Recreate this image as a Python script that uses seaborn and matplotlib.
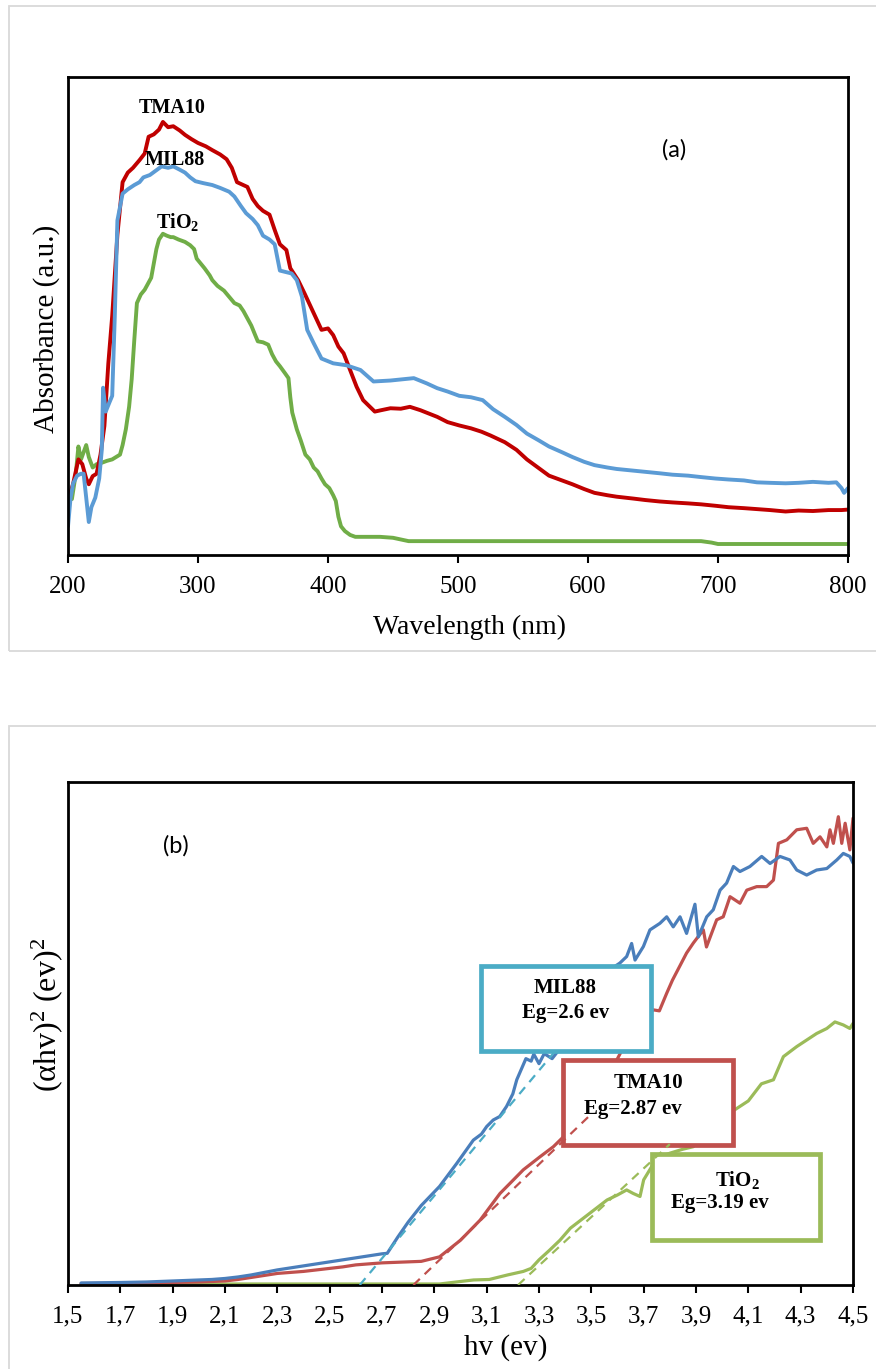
import matplotlib
matplotlib.use("Agg")
import matplotlib.pyplot as plt
import seaborn as sns
import pandas as pd
from matplotlib.patches import Rectangle

# ---------------- Panel (a): UV-Vis absorbance ----------------
wl_tma = [200, 204, 208, 211, 214, 216, 219, 222, 225, 228, 231, 234, 238, 242, 246, 250, 255, 259, 262,
          266, 270, 273, 277, 281, 286, 290, 295, 300, 306, 311, 317, 322, 326, 330, 334, 338, 342, 346,
          350, 355, 359, 363, 368, 371, 377, 382, 389, 395, 400, 404, 408, 412, 417, 422, 427, 436, 441,
          448, 456, 463, 471, 484, 492, 501, 510, 518, 525, 536, 545, 553, 562, 570, 580,
          588, 597, 605, 615, 622, 635, 644, 655, 665, 677, 687, 698, 708, 720, 730, 740, 752, 762, 773,
          785, 795, 800]
abs_tma = [0.113, 0.15, 0.20, 0.19, 0.16, 0.148, 0.165, 0.17, 0.21, 0.27, 0.40, 0.50, 0.67, 0.78, 0.80,
           0.81, 0.826, 0.84, 0.875, 0.88, 0.89, 0.906, 0.895, 0.897, 0.888, 0.879, 0.870, 0.862, 0.855,
           0.847, 0.838, 0.828, 0.81, 0.78, 0.775, 0.77, 0.745, 0.73, 0.72, 0.712, 0.68, 0.65, 0.638, 0.60,
           0.575, 0.547, 0.506, 0.471, 0.474, 0.46, 0.436, 0.422, 0.387, 0.352, 0.324, 0.30, 0.303,
           0.307, 0.306, 0.31, 0.303, 0.289, 0.278, 0.271, 0.265, 0.258, 0.25, 0.236, 0.22, 0.20,
           0.182, 0.166, 0.156, 0.148, 0.138, 0.130, 0.125, 0.122, 0.118, 0.115, 0.112, 0.110, 0.108, 0.106,
           0.103, 0.100, 0.098, 0.096, 0.094, 0.091, 0.093, 0.092, 0.094, 0.094, 0.095]

wl_mil = [200, 202, 204, 207, 210, 212, 214, 216, 218, 221, 224, 226, 227, 229, 232, 234, 236, 238, 242,
          246, 251, 255, 258, 263, 268, 272, 277, 281, 286, 290, 294, 298, 304, 311, 317, 324, 328, 333,
          337, 342, 346, 350, 355, 359, 363, 372, 376, 380, 384, 389, 395, 404, 414, 425, 435, 448, 466,
          476, 484, 492, 501, 510, 519, 527, 536, 545, 553, 562, 570,
          580, 588, 597, 605, 615, 622, 633, 644, 655, 665, 677, 687, 698, 708, 720, 730, 740, 752, 762,
          773, 785, 791, 795, 797, 800]
abs_mil = [0.06, 0.12, 0.15, 0.166, 0.17, 0.17, 0.12, 0.069, 0.10, 0.12, 0.16, 0.22, 0.35, 0.30, 0.32,
           0.333, 0.50, 0.70, 0.756, 0.765, 0.774, 0.78, 0.79, 0.795, 0.805, 0.813, 0.81, 0.813, 0.806, 0.80,
           0.79, 0.782, 0.778, 0.774, 0.768, 0.76, 0.75, 0.73, 0.715, 0.703, 0.69, 0.668, 0.66, 0.65, 0.595,
           0.589, 0.575, 0.54, 0.471, 0.443, 0.411, 0.401, 0.397, 0.387, 0.363, 0.365, 0.37,
           0.359, 0.349, 0.342, 0.333, 0.33, 0.324, 0.305, 0.289, 0.272, 0.254,
           0.24, 0.227, 0.215, 0.205, 0.195, 0.188, 0.183, 0.18, 0.177, 0.174, 0.171, 0.168, 0.166, 0.163,
           0.16, 0.158, 0.156, 0.152, 0.151, 0.15, 0.151, 0.153, 0.151, 0.152, 0.14, 0.13, 0.14]

wl_tio2 = [200, 203, 206, 208, 210, 212, 214, 216, 219, 222, 225, 230, 234, 237, 240, 242, 244.5, 247, 249,
           251, 253, 256, 259, 262, 264, 266, 268, 270, 273, 276, 279, 281, 285, 290, 294, 297, 299, 302,
           305, 309, 311, 315, 320, 324, 328, 332, 335, 337, 341, 344, 346, 350, 354, 357, 360, 363, 367,
           369.6, 371, 372.5, 376, 379, 382.6, 386, 389, 392, 395, 397.7, 401, 404, 406, 408, 410, 413,
           417, 421, 428, 440, 450, 462, 500, 600, 687, 695, 700, 800]
abs_tio2 = [0.117, 0.117, 0.17, 0.227, 0.20, 0.215, 0.23, 0.205, 0.183, 0.19, 0.192, 0.197, 0.20, 0.205,
            0.21, 0.23, 0.263, 0.31, 0.368, 0.45, 0.527, 0.545, 0.555, 0.57, 0.58, 0.61, 0.64, 0.66, 0.672,
            0.668, 0.665, 0.665, 0.66, 0.655, 0.648, 0.64, 0.62, 0.61, 0.60, 0.585, 0.575, 0.563, 0.553,
            0.54, 0.527, 0.522, 0.51, 0.50, 0.48, 0.46, 0.447, 0.445, 0.44, 0.42, 0.405, 0.395, 0.38, 0.37,
            0.33, 0.298, 0.263, 0.24, 0.21, 0.2, 0.183, 0.175, 0.16, 0.148, 0.14, 0.125, 0.113, 0.08, 0.06,
            0.05, 0.042, 0.038, 0.038, 0.038, 0.036, 0.029, 0.029, 0.029, 0.029, 0.026, 0.023, 0.023]

wl_ticks = [200, 300, 400, 500, 600, 700, 800]

# ---------------- Panel (b): Tauc plot ----------------
hv_mil = [1.55, 1.7, 1.8, 1.9, 2.0, 2.05, 2.1, 2.15, 2.2, 2.25, 2.3, 2.35, 2.4, 2.45, 2.5, 2.55, 2.6, 2.65,
          2.7, 2.72, 2.76, 2.8, 2.85, 2.92, 2.986, 3.049, 3.08, 3.1, 3.125, 3.15, 3.176, 3.2, 3.215, 3.25,
          3.27, 3.28, 3.3, 3.32, 3.35, 3.38, 3.45, 3.5, 3.55, 3.58, 3.609, 3.635, 3.654, 3.667, 3.699,
          3.724, 3.762, 3.788, 3.813, 3.839, 3.864, 3.896, 3.909, 3.941, 3.966, 3.992, 4.017, 4.043, 4.068,
          4.106, 4.151, 4.183, 4.221, 4.259, 4.285, 4.323, 4.361, 4.4, 4.438, 4.463, 4.488, 4.5]
tauc_mil = [0.004, 0.005, 0.006, 0.008, 0.01, 0.011, 0.013, 0.016, 0.02, 0.025, 0.03, 0.034, 0.038, 0.042,
            0.046, 0.05, 0.054, 0.058, 0.062, 0.063, 0.095, 0.125, 0.158, 0.196, 0.242, 0.288, 0.30,
            0.315, 0.328, 0.335, 0.355, 0.38, 0.408, 0.45, 0.445, 0.459, 0.44, 0.46, 0.45, 0.47, 0.52, 0.57,
            0.61, 0.63, 0.640, 0.653, 0.679, 0.646, 0.673, 0.706, 0.719, 0.732, 0.712, 0.732, 0.699, 0.757,
            0.692, 0.732, 0.746, 0.785, 0.799, 0.832, 0.822, 0.832, 0.852, 0.838, 0.852, 0.845, 0.825,
            0.815, 0.825, 0.828, 0.845, 0.858, 0.852, 0.839]

hv_tma = [1.55, 1.8, 2.0, 2.1, 2.15, 2.2, 2.25, 2.3, 2.35, 2.4, 2.45, 2.5, 2.55, 2.6, 2.65, 2.7, 2.75, 2.8,
          2.85, 2.92, 3.0, 3.075, 3.151, 3.189, 3.24, 3.304, 3.355, 3.4, 3.45, 3.5, 3.55, 3.6, 3.65, 3.7,
          3.737, 3.76, 3.788, 3.81, 3.864, 3.89, 3.928, 3.94, 3.979, 4.004, 4.03, 4.068, 4.094, 4.132,
          4.17, 4.196, 4.215, 4.247, 4.285, 4.323, 4.348, 4.374, 4.4, 4.412, 4.425, 4.444, 4.457, 4.47,
          4.488, 4.5]
tauc_tma = [0.003, 0.004, 0.006, 0.008, 0.011, 0.015, 0.019, 0.023, 0.025, 0.027, 0.03, 0.033, 0.036, 0.04,
            0.042, 0.044, 0.045, 0.046, 0.047, 0.056, 0.089, 0.129, 0.182, 0.202, 0.229, 0.255, 0.275,
            0.298, 0.32, 0.35, 0.40, 0.45, 0.50, 0.53, 0.547, 0.545, 0.58, 0.606, 0.66, 0.68,
            0.706, 0.672, 0.726, 0.732, 0.772, 0.759, 0.785, 0.792, 0.792, 0.805, 0.878, 0.885, 0.905,
            0.908, 0.878, 0.891, 0.871, 0.905, 0.878, 0.931, 0.878, 0.918, 0.865, 0.928]

hv_tio2 = [1.55, 2.5, 2.92, 3.0, 3.05, 3.11, 3.18, 3.24, 3.27, 3.30, 3.34, 3.38, 3.42, 3.46, 3.51, 3.56,
           3.60, 3.635, 3.66, 3.686, 3.70, 3.75, 3.80, 3.85, 3.89, 3.95, 4.0, 4.05, 4.1, 4.15, 4.196, 4.234,
           4.285, 4.323, 4.361, 4.4, 4.431, 4.463, 4.488, 4.5]
tauc_tio2 = [0.002, 0.002, 0.002, 0.007, 0.01, 0.011, 0.02, 0.027, 0.033, 0.05, 0.069, 0.089, 0.113, 0.129,
             0.149, 0.169, 0.179, 0.189, 0.182, 0.176, 0.209, 0.252, 0.262, 0.27, 0.275, 0.31, 0.336, 0.349,
             0.366, 0.40, 0.408, 0.454, 0.474, 0.487, 0.50, 0.51, 0.523, 0.517, 0.51, 0.52]

# tangent (extrapolation) lines: [start, end]
fit_hv_mil, fit_y_mil = [2.615, 3.37], [0.0, 0.47]
fit_hv_tma, fit_y_tma = [2.82, 3.50], [0.0, 0.34]
fit_hv_tio2, fit_y_tio2 = [3.22, 3.80], [0.0, 0.28]

hv_ticks = [1.5, 1.7, 1.9, 2.1, 2.3, 2.5, 2.7, 2.9, 3.1, 3.3, 3.5, 3.7, 3.9, 4.1, 4.3, 4.5]
hv_ticklabels = [f"{v:.1f}".replace(".", ",") for v in hv_ticks]

# ---------------- style ----------------
sns.set_theme(style="white")
SERIF = "Liberation Serif"
plt.rcParams["font.family"] = [SERIF, "DejaVu Serif"]
plt.rcParams["mathtext.fontset"] = "custom"
plt.rcParams["mathtext.rm"] = SERIF
plt.rcParams["mathtext.it"] = SERIF + ":italic"
plt.rcParams["mathtext.bf"] = SERIF + ":bold"
plt.rcParams["mathtext.default"] = "regular"

W, H = 876, 1369
fig = plt.figure(figsize=(W / 100, H / 100), dpi=100)
fig.patch.set_facecolor("white")


def px_axes(l, t, r, b):
    return fig.add_axes([l / W, 1 - b / H, (r - l) / W, (b - t) / H])


# outer grey frames
fig.add_artist(Rectangle((9 / W, 1 - 651 / H), 1.0, 645 / H, transform=fig.transFigure,
                         fill=False, edgecolor="#d9d9d9", lw=1.3))
fig.add_artist(Rectangle((9 / W, -0.05), 1.0, 1 - 726 / H + 0.05, transform=fig.transFigure,
                         fill=False, edgecolor="#d9d9d9", lw=1.3))

# ---------- (a) ----------
axa = px_axes(68, 77, 848, 555)
df_a = pd.concat([
    pd.DataFrame({"wl": wl_tma, "A": abs_tma, "s": "TMA10"}),
    pd.DataFrame({"wl": wl_mil, "A": abs_mil, "s": "MIL88"}),
    pd.DataFrame({"wl": wl_tio2, "A": abs_tio2, "s": "TiO2"}),
])
pal_a = {"TMA10": "#c00000", "MIL88": "#5b9bd5", "TiO2": "#70ad47"}
for name in ["TiO2", "TMA10", "MIL88"]:
    sns.lineplot(data=df_a[df_a.s == name], x="wl", y="A", color=pal_a[name], lw=2.8,
                 sort=False, estimator=None, ax=axa, legend=False)
axa.set_xlim(200, 800)
axa.set_ylim(0, 1)
axa.set_xticks(wl_ticks)
axa.set_xticklabels([str(v) for v in wl_ticks], fontsize=18)
axa.set_yticks([])
axa.tick_params(axis="x", direction="out", length=6, width=1.5, pad=9, bottom=True, colors="black")
for sp in axa.spines.values():
    sp.set_visible(True)
    sp.set_color("black")
    sp.set_linewidth(2)
axa.set_xlabel("Wavelength (nm)", fontsize=20, color="black")
axa.xaxis.label.set_va("center")
axa.xaxis.set_label_coords(0.515, -0.151)
axa.set_ylabel("Absorbance (a.u.)", fontsize=21, color="black")
axa.yaxis.label.set_va("center")
axa.yaxis.set_label_coords(-0.028, 0.473)

lab_kw = dict(fontsize=14.5, fontweight="bold", ha="center", va="center", color="black")
axa.text(280, 0.935, "TMA10", **lab_kw)
axa.text(282.3, 0.826, "MIL88", **lab_kw)
axa.text(284.6, 0.697, r"TiO$_{\mathbf{2}}$", **lab_kw)
axa.text(666, 0.847, "(a)", fontsize=17, family="Lato", ha="center", va="center", color="black")

# ---------- (b) ----------
axb = px_axes(68, 782, 853, 1285)
df_b = pd.concat([
    pd.DataFrame({"hv": hv_tio2, "y": tauc_tio2, "s": "TiO2"}),
    pd.DataFrame({"hv": hv_tma, "y": tauc_tma, "s": "TMA10"}),
    pd.DataFrame({"hv": hv_mil, "y": tauc_mil, "s": "MIL88"}),
])
pal_b = {"TMA10": "#c0504d", "MIL88": "#4a7ebb", "TiO2": "#9bbb59"}
for name in ["TiO2", "TMA10", "MIL88"]:
    sns.lineplot(data=df_b[df_b.s == name], x="hv", y="y", color=pal_b[name], lw=2.3,
                 sort=False, estimator=None, ax=axb, legend=False, zorder=2)

fit_df = pd.concat([
    pd.DataFrame({"hv": fit_hv_mil, "y": fit_y_mil, "s": "MIL88"}),
    pd.DataFrame({"hv": fit_hv_tma, "y": fit_y_tma, "s": "TMA10"}),
    pd.DataFrame({"hv": fit_hv_tio2, "y": fit_y_tio2, "s": "TiO2"}),
])
pal_fit = {"MIL88": "#4bacc6", "TMA10": "#c0504d", "TiO2": "#9bbb59"}
for name in ["MIL88", "TMA10", "TiO2"]:
    sns.lineplot(data=fit_df[fit_df.s == name], x="hv", y="y", color=pal_fit[name], lw=1.6,
                 linestyle=(0, (4, 3)), sort=False, estimator=None, ax=axb, legend=False, zorder=6)

axb.set_xlim(1.5, 4.5)
axb.set_ylim(0, 1)
axb.set_xticks(hv_ticks)
axb.set_xticklabels(hv_ticklabels, fontsize=18)
axb.set_yticks([])
axb.tick_params(axis="x", direction="out", length=6, width=1.5, pad=9, bottom=True, colors="black")
for sp in axb.spines.values():
    sp.set_visible(True)
    sp.set_color("black")
    sp.set_linewidth(2)
axb.set_xlabel("hv (ev)", fontsize=21, color="black")
axb.xaxis.label.set_va("center")
axb.xaxis.set_label_coords(0.557, -0.125)
axb.set_ylabel(r"($\alpha$hv)$^2$ (ev)$^2$", fontsize=23, color="black")
axb.yaxis.label.set_va("center")
axb.yaxis.set_label_coords(-0.027, 0.537)

# annotation boxes
boxes = [
    (3.078, 0.465, 3.728, 0.634, "#4bacc6"),
    (3.392, 0.278, 4.041, 0.447, "#c0504d"),
    (3.732, 0.089, 4.374, 0.260, "#9bbb59"),
]
for x0, y0, x1, y1, col in boxes:
    axb.add_patch(Rectangle((x0, y0), x1 - x0, y1 - y0, facecolor="white", edgecolor=col,
                            lw=3.4, zorder=4))

bkw = dict(fontsize=15, fontweight="bold", ha="center", va="center", color="black", zorder=5)
axb.text(3.399, 0.590, "MIL88", **bkw)
axb.text(3.403, 0.541, "Eg=2.6 ev", **bkw)
axb.text(3.717, 0.402, "TMA10", **bkw)
axb.text(3.659, 0.350, "Eg=2.87 ev", **bkw)
axb.text(4.057, 0.209, r"TiO$_{\mathbf{2}}$", **bkw)
axb.text(3.992, 0.163, "Eg=3.19 ev", **bkw)
axb.text(1.913, 0.873, "(b)", fontsize=17, family="Lato", ha="center", va="center", color="black")

fig.savefig("out.png", dpi=100, facecolor="white")
